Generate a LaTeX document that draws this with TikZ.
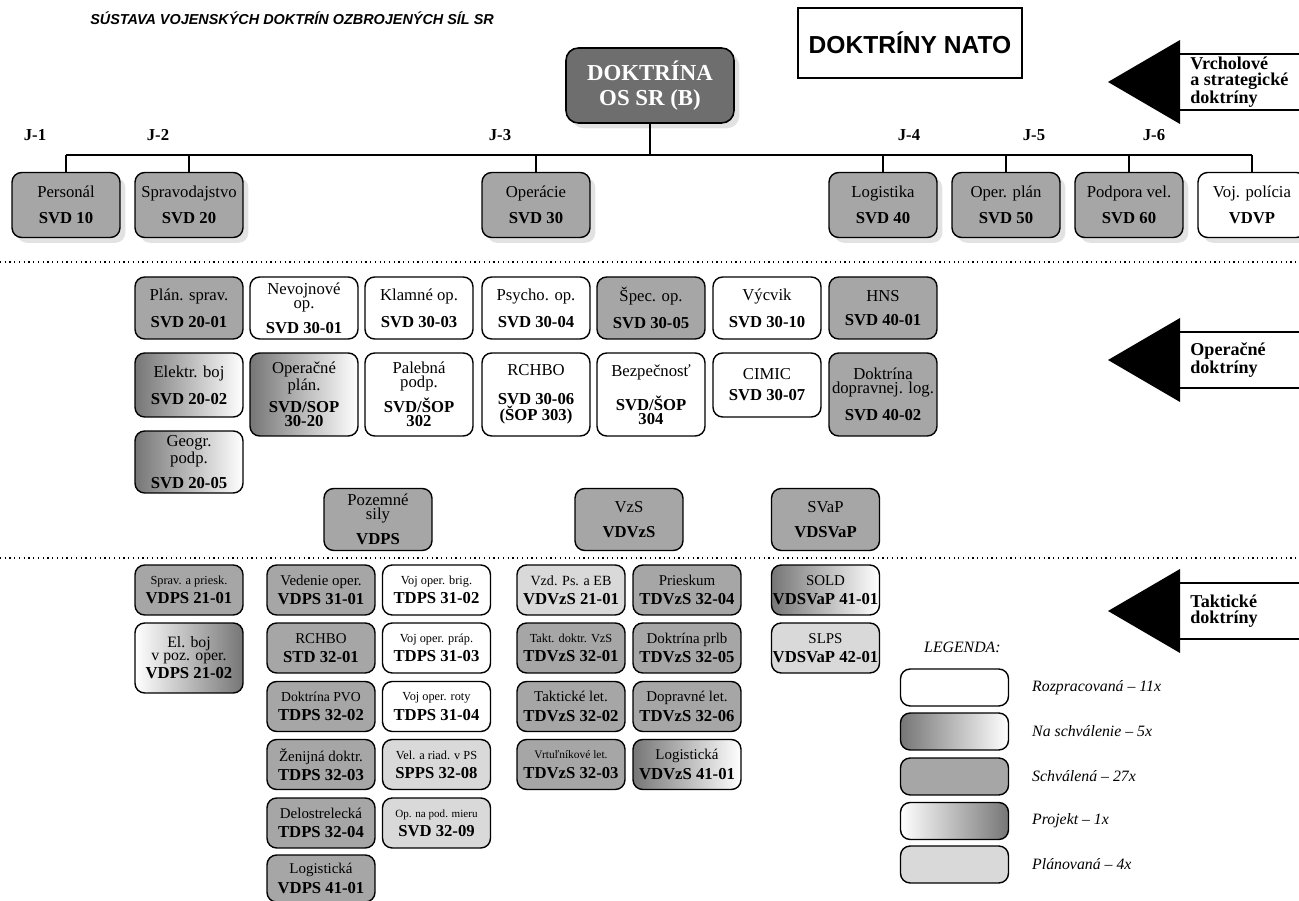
\documentclass[tikz,border=0pt]{standalone}
\usepackage{fontspec}
\setmainfont{Liberation Serif}
\newfontfamily\arialfont{Liberation Sans}
\usetikzlibrary{shadows}

\definecolor{schvalGray}{RGB}{166,166,166}
\definecolor{planGray}{RGB}{217,217,217}
\definecolor{gradGray}{RGB}{118,118,118}
\definecolor{mainGray}{RGB}{110,110,110}

\newcommand{\kod}[1]{\textbf{\fontsize{9.5}{11}\selectfont #1}}
\newcommand{\maly}[1]{{\fontsize{7}{8}\selectfont #1}}

\tikzset{
    docBox/.style={
        rectangle,
        rounded corners=5.5pt,
        draw=black,
        line width=0.8pt,
        align=center,
        inner sep=0pt,
        minimum width=2.16cm
    },
    schvalena/.style={docBox, fill=schvalGray},
    rozpracovana/.style={docBox, fill=white},
    planovana/.style={docBox, fill=planGray},
    naSchvalenie/.style={docBox, left color=gradGray, right color=white},
    projekt/.style={docBox, left color=white, right color=gradGray},
    boxShadow/.style={
        drop shadow={shadow xshift=3pt, shadow yshift=-3pt, fill=black!22}
    },
    topRow/.style={
        minimum height=1.3cm,
        font=\fontsize{9.5}{9}\selectfont,
        boxShadow
    },
    opRow/.style={
        minimum height=1.24cm,
        font=\fontsize{9.5}{8}\selectfont
    },
    tallRow/.style={opRow, minimum height=1.66cm},
    shortRow/.style={opRow, minimum height=1.28cm},
    takRow/.style={
        minimum height=1.0cm,
        font=\fontsize{8.5}{11}\selectfont
    },
    legBox/.style={docBox, minimum width=2.14cm, minimum height=0.74cm},
    legText/.style={anchor=west, font=\itshape\fontsize{9}{11}\selectfont},
    jLabel/.style={font=\bfseries\fontsize{9.5}{11}\selectfont},
    treeLine/.style={line width=0.85pt},
    levelLine/.style={dotted, line width=0.7pt},
    levelText/.style={
        anchor=west,
        align=left,
        inner sep=0pt,
        font=\bfseries\fontsize{10.3}{9}\selectfont
    },
    mainBox/.style={
        rectangle,
        rounded corners=7pt,
        draw=black,
        line width=0.9pt,
        fill=mainGray,
        text=white,
        align=center,
        minimum width=3.36cm,
        minimum height=1.5cm,
        font=\bfseries\fontsize{13}{14}\selectfont,
        boxShadow
    },
    natoBox/.style={
        rectangle,
        draw=black,
        line width=0.8pt,
        minimum width=4.48cm,
        minimum height=1.4cm,
        font=\arialfont\bfseries\fontsize{14}{16}\selectfont
    },
    titleText/.style={
        anchor=west,
        inner sep=0pt,
        font=\arialfont\bfseries\itshape\fontsize{8.2}{10}\selectfont
    }
}

\begin{document}
\begin{tikzpicture}[x=0.02cm, y=-0.02cm]
    \useasboundingbox (0,0) rectangle (1299,901);
    \fill[white] (0,0) rectangle (1299,901);

    \node[titleText] (title) at (90,18) {SÚSTAVA VOJENSKÝCH DOKTRÍN OZBROJENÝCH SÍL SR};
    \node[natoBox] (nato) at (910,43) {DOKTRÍNY NATO};

    % Strategic level
    \node[mainBox] (doktrina) at (650,85.5) {DOKTRÍNA\\OS SR (B)};

    \node[schvalena, topRow] (personal) at (66,205) {Personál\\[6pt]\kod{SVD 10}};
    \node[schvalena, topRow] (spravodajstvo) at (189,205) {Spravodajstvo\\[6pt]\kod{SVD 20}};
    \node[schvalena, topRow] (operacie) at (536,205) {Operácie\\[6pt]\kod{SVD 30}};
    \node[schvalena, topRow] (logistika) at (883,205) {Logistika\\[6pt]\kod{SVD 40}};
    \node[schvalena, topRow] (operPlan) at (1006,205) {Oper. plán\\[6pt]\kod{SVD 50}};
    \node[schvalena, topRow] (podpora) at (1129,205) {Podpora vel.\\[6pt]\kod{SVD 60}};
    \node[rozpracovana, topRow] (vojPolicia) at (1252,205) {Voj. polícia\\[6pt]\kod{VDVP}};

    \node[jLabel] (j1) at (35,135) {J-1};
    \node[jLabel] (j2) at (158,135) {J-2};
    \node[jLabel] (j3) at (500,135) {J-3};
    \node[jLabel] (j4) at (909,135) {J-4};
    \node[jLabel] (j5) at (1034,135) {J-5};
    \node[jLabel] (j6) at (1154,135) {J-6};

    \coordinate (bus) at (650,155);
    \draw[treeLine] (doktrina.south) -- (bus);
    \draw[treeLine] (bus -| personal.north) -- (bus -| vojPolicia.north);
    \foreach \n in {personal, spravodajstvo, operacie, logistika, operPlan, podpora, vojPolicia}
        \draw[treeLine] (bus -| \n.north) -- (\n.north);

    \draw[levelLine] (0,262) -- (1299,262);

    % Operational level
    \node[schvalena, opRow] (planSprav) at (189,308) {Plán. sprav.\\[6pt]\kod{SVD 20-01}};
    \node[rozpracovana, opRow] (nevojnove) at (304,308) {Nevojnové\\op.\\[5pt]\kod{SVD 30-01}};
    \node[rozpracovana, opRow] (klamne) at (419,308) {Klamné op.\\[6pt]\kod{SVD 30-03}};
    \node[rozpracovana, opRow] (psycho) at (536,308) {Psycho. op.\\[6pt]\kod{SVD 30-04}};
    \node[schvalena, opRow] (specOp) at (651,308) {Špec. op.\\[6pt]\kod{SVD 30-05}};
    \node[rozpracovana, opRow] (vycvik) at (767,308) {Výcvik\\[6pt]\kod{SVD 30-10}};
    \node[schvalena, opRow] (hns) at (883,308) {HNS\\[6pt]\kod{SVD 40-01}};

    \node[naSchvalenie, shortRow] (elektrBoj) at (189,385) {Elektr. boj\\[6pt]\kod{SVD 20-02}};
    \node[naSchvalenie, tallRow] (operacnePlan) at (304,394.5) {Operačné\\plán.\\[3pt]\kod{SVD/SOP}\\\kod{30-20}};
    \node[rozpracovana, tallRow] (palebna) at (419,394.5) {Palebná\\podp.\\[3pt]\kod{SVD/ŠOP}\\\kod{302}};
    \node[rozpracovana, tallRow] (rchboOp) at (536,394.5) {RCHBO\\[8pt]\kod{SVD 30-06}\\\kod{(ŠOP 303)}};
    \node[rozpracovana, tallRow] (bezpecnost) at (651,394.5) {Bezpečnosť\\[8pt]\kod{SVD/ŠOP}\\\kod{304}};
    \node[rozpracovana, shortRow] (cimic) at (767,385) {CIMIC\\[4pt]\kod{SVD 30-07}};
    \node[schvalena, tallRow] (doktrinaDopr) at (883,394.5) {Doktrína\\dopravnej. log.\\[6pt]\kod{SVD 40-02}};

    \node[naSchvalenie, opRow] (geogr) at (189,462) {Geogr.\\podp.\\[5pt]\kod{SVD 20-05}};

    \node[schvalena, opRow] (pozemne) at (378,519.5) {Pozemné\\sily\\[5pt]\kod{VDPS}};
    \node[schvalena, opRow] (vzs) at (629,519.5) {VzS\\[6pt]\kod{VDVzS}};
    \node[schvalena, opRow] (svap) at (825.5,519.5) {SVaP\\[6pt]\kod{VDSVaP}};

    \draw[levelLine] (0,558) -- (1299,558);

    % Tactical level
    \node[schvalena, takRow] (spravPriesk) at (189,590) {\maly{Sprav. a priesk.}\\\kod{VDPS 21-01}};
    \node[projekt, takRow, minimum height=1.4cm, font=\fontsize{9}{7.5}\selectfont] (elBoj) at (189,658) {El. boj\\v poz. oper.\\[1pt]\kod{VDPS 21-02}};

    \node[schvalena, takRow] (vedenieOper) at (321,590) {Vedenie oper.\\\kod{VDPS 31-01}};
    \node[schvalena, takRow] (rchboTak) at (321,648) {RCHBO\\\kod{STD 32-01}};
    \node[schvalena, takRow] (pvo) at (321,706.5) {{\fontsize{7.8}{8}\selectfont Doktrína PVO}\\\kod{TDPS 32-02}};
    \node[schvalena, takRow] (zenijna) at (321,764.5) {Ženijná doktr.\\\kod{TDPS 32-03}};
    \node[schvalena, takRow] (delostrel) at (321,823) {Delostrelecká\\\kod{TDPS 32-04}};
    \node[schvalena, takRow, minimum height=0.94cm] (logistPs) at (321,878.5) {Logistická\\\kod{VDPS 41-01}};

    \node[rozpracovana, takRow] (vojBrig) at (436.5,590) {\maly{Voj oper. brig.}\\\kod{TDPS 31-02}};
    \node[rozpracovana, takRow] (vojPrap) at (436.5,648) {\maly{Voj oper. práp.}\\\kod{TDPS 31-03}};
    \node[rozpracovana, takRow] (vojRoty) at (436.5,706.5) {\maly{Voj oper. roty}\\\kod{TDPS 31-04}};
    \node[planovana, takRow] (velRiad) at (436.5,764.5) {\maly{Vel. a riad. v PS}\\\kod{SPPS 32-08}};
    \node[planovana, takRow] (podMieru) at (436.5,823) {{\fontsize{6.3}{8}\selectfont Op. na pod. mieru}\\\kod{SVD 32-09}};

    \node[planovana, takRow] (vzdPs) at (571,590) {{\fontsize{8}{8}\selectfont Vzd. Ps. a EB}\\\kod{VDVzS 21-01}};
    \node[schvalena, takRow] (taktVzs) at (571,648) {\maly{Takt. doktr. VzS}\\\kod{TDVzS 32-01}};
    \node[schvalena, takRow] (taktLet) at (571,706.5) {Taktické let.\\\kod{TDVzS 32-02}};
    \node[schvalena, takRow] (vrtulnik) at (571,764.5) {{\fontsize{6.5}{8}\selectfont Vrtuľníkové let.}\\\kod{TDVzS 32-03}};

    \node[schvalena, takRow] (prieskum) at (687,590) {Prieskum\\\kod{TDVzS 32-04}};
    \node[schvalena, takRow] (prlb) at (687,648) {Doktrína prlb\\\kod{TDVzS 32-05}};
    \node[schvalena, takRow] (dopravLet) at (687,706.5) {Dopravné let.\\\kod{TDVzS 32-06}};
    \node[naSchvalenie, takRow] (logistVzs) at (687,764.5) {Logistická\\\kod{VDVzS 41-01}};

    \node[naSchvalenie, takRow] (sold) at (825.5,590) {SOLD\\\kod{VDSVaP 41-01}};
    \node[planovana, takRow] (slps) at (825.5,648) {SLPS\\\kod{VDSVaP 42-01}};

    % Level arrows
    \foreach \ay/\atext [count=\i] in {82/{Vrcholové\\a strategické\\doktríny}, 360/{Operačné\\doktríny}, 611/{Taktické\\doktríny}} {
        \fill (1108,\ay) -- (1180,\ay-42) -- (1180,\ay+42) -- cycle;
        \draw[line width=1.3pt] (1180,\ay-28) -- (1299,\ay-28) (1180,\ay+28) -- (1299,\ay+28);
        \node[levelText] (level\i) at (1190,\ay) {\atext};
    }

    % Legend
    \node[legText] (legenda) at (918,647) {LEGENDA:};
    \node[legBox, rozpracovana] (legRozp) at (954.5,687.5) {};
    \node[legBox, naSchvalenie] (legNaSchv) at (954.5,731.5) {};
    \node[legBox, schvalena] (legSchv) at (954.5,776.5) {};
    \node[legBox, projekt] (legProj) at (954.5,821) {};
    \node[legBox, planovana] (legPlan) at (954.5,864.5) {};
    \node[legText] (txtRozp) at (1026,687.5) {Rozpracovaná – 11x};
    \node[legText] (txtNaSchv) at (1026,731.5) {Na schválenie – 5x};
    \node[legText] (txtSchv) at (1026,776.5) {Schválená – 27x};
    \node[legText] (txtProj) at (1026,821) {Projekt – 1x};
    \node[legText] (txtPlan) at (1026,864.5) {Plánovaná – 4x};
\end{tikzpicture}
\end{document}
